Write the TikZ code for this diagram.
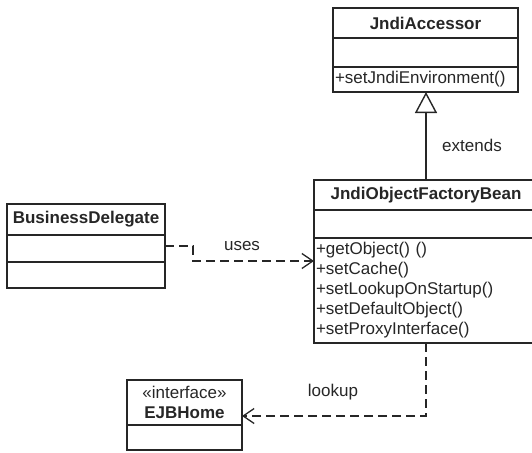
\documentclass[tikz,border=0pt]{standalone}
\usepackage{fontspec}
\setmainfont{Liberation Sans}
\usetikzlibrary{arrows.meta, positioning, calc}
\tikzset{
  classhead/.style={draw=black!85, line width=1.5pt, inner sep=0pt, outer sep=0pt, font=\bfseries, align=center, text=black!85},
  classpart/.style={draw=black!85, line width=1.5pt, inner sep=0pt, outer sep=0pt},
  methodlist/.style={classpart, align=left, inner xsep=2pt, text=black!85},
  depline/.style={-{Straight Barb[length=11pt,width=15pt]}, line width=1.3pt, dash pattern=on 9pt off 5pt, black!85},
  extline/.style={-{Triangle[open,length=21pt,width=22pt]}, line width=1.4pt, black!85},
  lbl/.style={inner sep=0pt, text=black!85}
}

\begin{document}
\fontsize{17}{20}\selectfont
\begin{tikzpicture}[x=1pt, y=-1pt]
  \useasboundingbox (0,0) rectangle (532,452);
  % JndiAccessor
  \node[classhead, minimum width=185pt, minimum height=30pt, anchor=north west] (jaHead) at (333,8) {JndiAccessor};
  \node[classpart, minimum width=185pt, minimum height=29pt, below=0pt of jaHead] (jaAttr) {};
  \node[methodlist, text width=181pt, minimum height=25pt, below=0pt of jaAttr] (jaMeth) {+setJndiEnvironment()};
  % JndiObjectFactoryBean
  \node[classhead, minimum width=224pt, minimum height=30pt, anchor=north west] (jofbHead) at (314,180) {JndiObjectFactoryBean};
  \node[classpart, minimum width=224pt, minimum height=28pt, below=0pt of jofbHead] (jofbAttr) {};
  \node[methodlist, text width=220pt, minimum height=105pt, below=0pt of jofbAttr] (jofbMeth)
    {+getObject() ()\\+setCache()\\+setLookupOnStartup()\\+setDefaultObject()\\+setProxyInterface()};
  % BusinessDelegate
  \node[classhead, minimum width=158pt, minimum height=31pt, anchor=north west] (bdHead) at (7,204) {BusinessDelegate};
  \node[classpart, minimum width=158pt, minimum height=27pt, below=0pt of bdHead] (bdAttr) {};
  \node[classpart, minimum width=158pt, minimum height=26pt, below=0pt of bdAttr] (bdMeth) {};
  % EJBHome
  \node[classhead, minimum width=115pt, minimum height=45pt, anchor=north west] (ejbHead) at (127,380)
    {{\mdseries «interface»}\\EJBHome};
  \node[classpart, minimum width=115pt, minimum height=25pt, below=0pt of ejbHead] (ejbAttr) {};

  % relations
  \draw[extline] (jofbHead.north) -- (jofbHead.north |- jaMeth.south);
  \node[lbl] (extendsLbl) at (472,145) {extends};

  \coordinate (usesStart) at ($(bdAttr.north east)+(0,11)$);
  \coordinate (usesEnd) at ($(jofbMeth.north west)+(0,23)$);
  \draw[depline] (usesStart) -- ++(28,0) |- (usesEnd);
  \node[lbl] (usesLbl) at (242,246) {uses};

  \coordinate (lookupEnd) at ($(ejbHead.south east)+(0,-9)$);
  \draw[depline] (jofbMeth.south) |- (lookupEnd);
  \node[lbl] (lookupLbl) at (333,392) {lookup};
\end{tikzpicture}
\end{document}
